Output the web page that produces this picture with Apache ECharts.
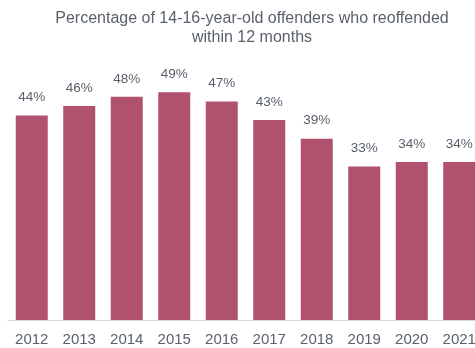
<!DOCTYPE html>
<html><head><meta charset="utf-8">
<script src="https://cdn.jsdelivr.net/npm/echarts@6/dist/echarts.min.js"></script>
<style>html,body{margin:0;padding:0;background:#fff}#c{width:475px;height:348px}</style>
</head><body><div id="c"></div>
<script>
const categories = ['2012','2013','2014','2015','2016','2017','2018','2019','2020','2021'];
const values = [44, 46, 48, 49, 47, 43, 39, 33, 34, 34];
const titleText = 'Percentage of 14-16-year-old offenders who reoffended\nwithin 12 months';

const chart = echarts.init(document.getElementById('c'), null, {renderer: 'canvas'});
chart.setOption({
  animation: false,
  graphic: [{
    type: 'text', x: 252, y: 9,
    style: {
      text: titleText, align: 'center', verticalAlign: 'top',
      fontFamily: 'Liberation Sans, Arial', fontSize: 16, lineHeight: 19, fill: '#5a606c'
    }
  }],
  grid: {left: 8, width: 475, top: 41, bottom: 28, outerBoundsMode: 'none', containLabel: false},
  xAxis: {
    type: 'category', data: categories,
    axisLine: {lineStyle: {color: '#d9d9d9', width: 1}},
    axisTick: {show: false},
    axisLabel: {fontFamily: 'Liberation Sans, Arial', fontSize: 15, color: '#5a606c', margin: 12}
  },
  yAxis: {type: 'value', min: 0, max: 60, show: false},
  series: [{
    type: 'bar', data: values, barWidth: 32,
    itemStyle: {color: '#b0516d'},
    label: {show: true, position: 'top', distance: 11, formatter: '{c}%',
      fontFamily: 'Liberation Sans, Arial', fontSize: 13.5, color: '#5a606c'}
  }]
});
</script></body></html>
